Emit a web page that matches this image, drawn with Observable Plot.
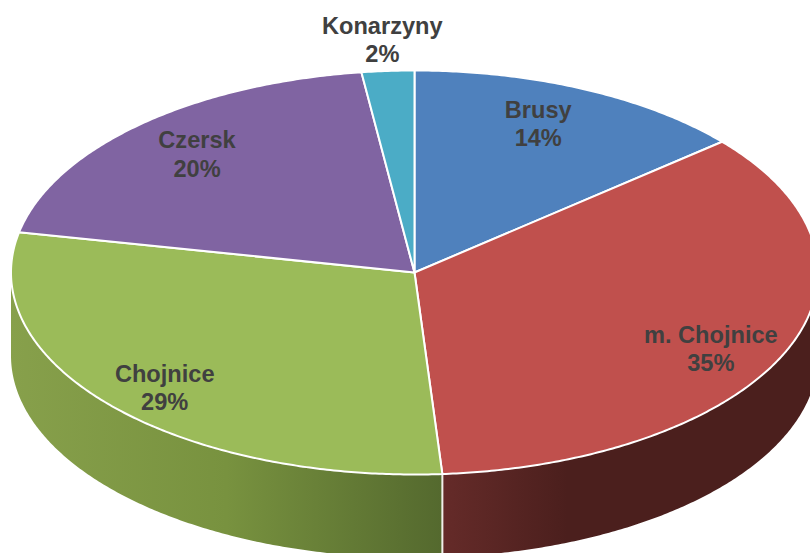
<!DOCTYPE html>
<html>
<head>
<meta charset="utf-8">
<script src="https://cdn.jsdelivr.net/npm/d3@7"></script>
<script src="https://cdn.jsdelivr.net/npm/@observablehq/plot@0.6"></script>
<style>html,body{margin:0;padding:0;background:#fff}svg{display:block}</style>
</head>
<body>
<div id="chart"></div>
<script>
const names = ["Brusy", "m. Chojnice", "Chojnice", "Czersk", "Konarzyny"];
const shares = [13.8, 35.1, 29.3, 19.7, 2.1];
const percentLabels = ["14%", "35%", "29%", "20%", "2%"];
const colors = ["#4F81BD", "#C0504D", "#9BBB59", "#8064A2", "#4BACC6"];
const labelRadiusX = [0.73, 0.797, 0.823, 0.79, 1.21];
const labelRadiusY = [0.815, 0.957, 0.862, 0.807, 1.16];
const wallGradients = {
  "wall-red": ["#652B29", "#4B1F1D", "#4B1F1D", "#4B1F1D"],
  "wall-green": ["#87A04B", "#78923F", "#54692E"]
};

const W = 810, H = 553;
const cx = 414, cy = 272, rx = 403.5, ry = 202, depth = 0.412;

// Slice angles, clockwise from twelve o'clock, in degrees.
const total = d3.sum(shares);
let acc = 0;
const slices = names.map((name, i) => {
  const a0 = acc / total * 360;
  acc += shares[i];
  return {name, i, a0, a1: acc / total * 360, color: colors[i]};
});
const pt = (deg, drop = 0) => {
  const t = deg * Math.PI / 180;
  return {x: Math.sin(t), y: Math.cos(t) - drop};
};
const arc = (a0, a1, drop = 0) => {
  const n = Math.max(2, Math.ceil((a1 - a0) * 2));
  return d3.range(n + 1).map(k => pt(a0 + (a1 - a0) * k / n, drop));
};

const topFace = slices.flatMap(s =>
  [{x: 0, y: 0}, ...arc(s.a0, s.a1), {x: 0, y: 0}].map(p => ({...p, name: s.name, color: s.color}))
);
const wall = s => {
  const a0 = Math.max(90, s.a0), a1 = Math.min(270, s.a1);
  return [...arc(a0, a1), ...arc(a0, a1, depth).reverse()];
};
const redWall = wall(slices[1]);
const greenWall = wall(slices[2]);
const seam = [pt(slices[1].a1), pt(slices[1].a1, depth)];

const labels = slices.map(s => {
  const p = pt((s.a0 + s.a1) / 2);
  return {
    x: p.x * labelRadiusX[s.i],
    y: p.y * labelRadiusY[s.i],
    text: `${s.name}\n${percentLabels[s.i]}`
  };
});

const gradientDefs = () => {
  const d = d3.create("svg:defs");
  for (const [id, stops] of Object.entries(wallGradients)) {
    const g = d.append("linearGradient").attr("id", id)
      .attr("x1", 0).attr("x2", 1).attr("y1", 0).attr("y2", 0);
    stops.forEach((c, k) => g.append("stop")
      .attr("offset", k / (stops.length - 1)).attr("stop-color", c));
  }
  return d.node();
};

const chart = Plot.plot({
  width: W,
  height: H,
  margin: 0,
  x: {type: "linear", domain: [-cx / rx, (W - cx) / rx], range: [0, W], axis: null},
  y: {type: "linear", domain: [cy / ry, (cy - H) / ry], range: [0, H], axis: null},
  color: {type: "identity"},
  style: {background: "#fff"},
  marks: [
    gradientDefs,
    Plot.line(redWall, {x: "x", y: "y", fill: "url(#wall-red)", stroke: "none", curve: "linear"}),
    Plot.line(greenWall, {x: "x", y: "y", fill: "url(#wall-green)", stroke: "none", curve: "linear"}),
    Plot.line(seam, {x: "x", y: "y", stroke: "#f0f0ea", strokeWidth: 2}),
    Plot.line(topFace, {x: "x", y: "y", z: "name", fill: "color", stroke: "white", strokeWidth: 2, strokeLinejoin: "round", curve: "linear"}),
    Plot.text(labels, {
      x: "x", y: "y", text: "text",
      fill: "#404040", fontFamily: "Liberation Sans, Arial, sans-serif",
      fontWeight: 700, fontSize: 23.6, lineHeight: 1.2, textAnchor: "middle"
    })
  ]
});
document.getElementById("chart").append(chart);
</script>
</body>
</html>
